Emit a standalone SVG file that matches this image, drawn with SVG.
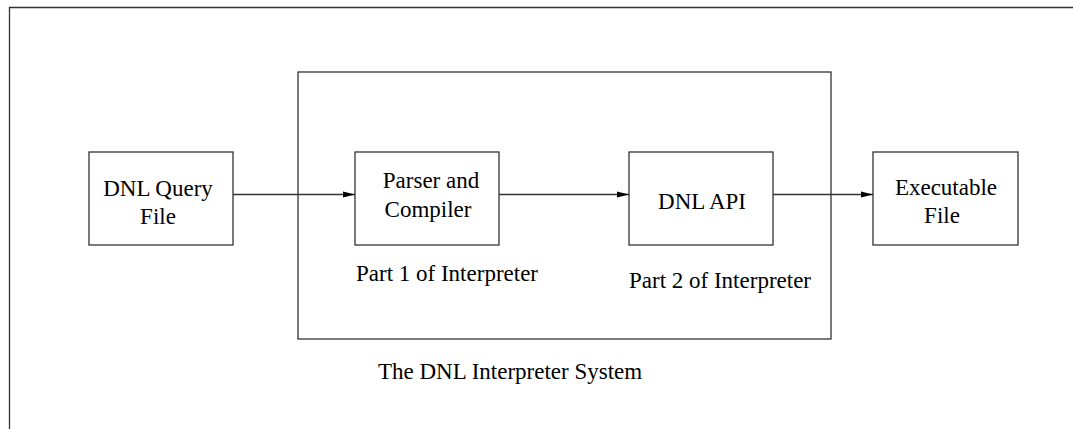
<svg xmlns="http://www.w3.org/2000/svg" width="1073" height="429" viewBox="0 0 1073 429">
<style>
.b{fill:none;stroke:#333;stroke-width:1.3}
.c{fill:none;stroke:#333;stroke-width:1.3}
text{font-family:"Liberation Serif","Times New Roman",serif;font-size:23px;fill:#000}
.m{text-anchor:middle}
</style>
<defs>
<marker id="ah" markerWidth="12" markerHeight="8" refX="12" refY="4" orient="auto" markerUnits="userSpaceOnUse">
<path d="M0,1 L12,4 L0,7 Z" fill="#000"/>
</marker>
</defs>
<rect width="1073" height="429" fill="#fff"/>
<g id="frame">
<path class="b" d="M1073,7.5 H9.5 V429"/>
</g>
<g id="system">
<rect class="b" x="298" y="72" width="533" height="267"/>
<text x="378" y="379">The DNL Interpreter System</text>
</g>
<g id="query">
<rect class="b" x="89" y="152" width="144" height="93"/>
<text class="m" x="158" y="196">DNL Query</text>
<text class="m" x="158" y="224">File</text>
</g>
<g id="parser">
<rect class="b" x="355" y="152" width="144" height="93"/>
<text class="m" x="431" y="188">Parser and</text>
<text class="m" x="428" y="217">Compiler</text>
<text x="356" y="281">Part 1 of Interpreter</text>
</g>
<g id="api">
<rect class="b" x="629" y="152" width="144" height="93"/>
<text class="m" x="702" y="209">DNL API</text>
<text x="629" y="288">Part 2 of Interpreter</text>
</g>
<g id="exec">
<rect class="b" x="873" y="152" width="145" height="93"/>
<text class="m" x="946" y="195">Executable</text>
<text class="m" x="942" y="223">File</text>
</g>
<g id="connectors">
<line class="c" x1="233" y1="194.5" x2="355" y2="194.5" marker-end="url(#ah)"/>
<line class="c" x1="499" y1="194.5" x2="629" y2="194.5" marker-end="url(#ah)"/>
<line class="c" x1="773" y1="194.5" x2="873" y2="194.5" marker-end="url(#ah)"/>
</g>
</svg>
